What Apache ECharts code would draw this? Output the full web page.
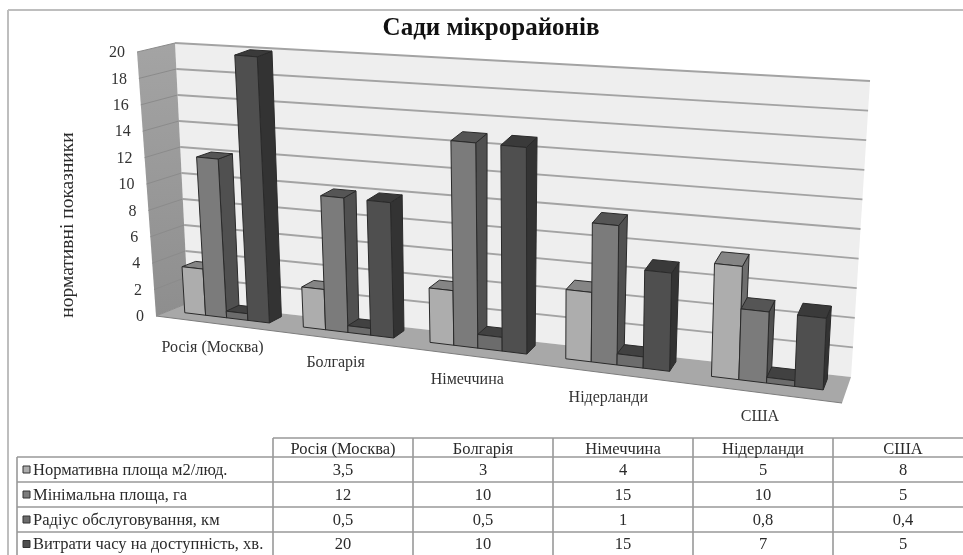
<!DOCTYPE html>
<html>
<head>
<meta charset="utf-8">
<style>
html, body { margin: 0; padding: 0; background: #fff; }
#chart { width: 963px; height: 555px; }
</style>
<script src="https://cdn.jsdelivr.net/npm/echarts@6/dist/echarts.min.js"></script>
</head>
<body>
<div id="chart"></div>
<script>
const categories = ['Росія (Москва)', 'Болгарія', 'Німеччина', 'Нідерланди', 'США']
const normArea = [3.5, 3, 4, 5, 8]
const minArea = [12, 10, 15, 10, 5]
const serviceRadius = [0.5, 0.5, 1, 0.8, 0.4]
const accessTime = [20, 10, 15, 7, 5]
const seriesNames = [
  'Нормативна площа м2/люд.',
  'Мінімальна площа, га',
  'Радіус обслуговування, км',
  'Витрати часу на доступність, хв.',
]
const seriesValues = [normArea, minArea, serviceRadius, accessTime]
const yTicks = [0, 2, 4, 6, 8, 10, 12, 14, 16, 18, 20]
const barColors = [
  { front: '#adadad', top: '#858585', side: '#6e6e6e' },
  { front: '#7b7b7b', top: '#555555', side: '#505050' },
  { front: '#6c6c6c', top: '#414141', side: '#3c3c3c' },
  { front: '#4f4f4f', top: '#3a3a3a', side: '#333333' },
]

// room corners on screen (front plane d=0, back plane d=1)
const FRONT = { lb: [156, 316], lt: [137, 52], rb: [842, 403], rt: [852, 122] }
const BACK = { lb: [188, 303], lt: [175, 43], rb: [851, 377], rt: [870, 81] }
const PERSP = 1.19
const BAR_D0 = 0.4
const BAR_D1 = 0.82
const GROUP_W = 0.72
const SERIF = '"Liberation Serif", serif'

function mix(a, b, k) {
  return [a[0] + (b[0] - a[0]) * k, a[1] + (b[1] - a[1]) * k]
}

// t: 0..1 along categories, h: 0..1 along values, d: 0..1 into the depth
function project(t, h, d) {
  const w = t / (t + PERSP * (1 - t))
  const f = mix(mix(FRONT.lb, FRONT.rb, w), mix(FRONT.lt, FRONT.rt, w), h)
  const b = mix(mix(BACK.lb, BACK.rb, w), mix(BACK.lt, BACK.rt, w), h)
  return mix(f, b, d)
}

// axis coords -> 0..1 inside the grid
function toUnit(params, px, py) {
  const cs = params.coordSys
  return [(px - cs.x) / cs.width, (cs.y + cs.height - py) / cs.height]
}

function poly(points, fill, stroke, lineWidth) {
  return {
    type: 'polygon',
    shape: { points: points },
    style: { fill: fill, stroke: stroke || 'none', lineWidth: lineWidth || 0 },
  }
}

function seg(a, b, color, width) {
  return {
    type: 'line',
    shape: { x1: a[0], y1: a[1], x2: b[0], y2: b[1] },
    style: { stroke: color, lineWidth: width },
  }
}

function renderRoom() {
  return {
    type: 'group',
    children: [
      poly([project(0, 0, 1), project(1, 0, 1), project(1, 1, 1), project(0, 1, 1)], '#eeeeee'),
      poly([project(0, 0, 0), project(0, 0, 1), project(0, 1, 1), project(0, 1, 0)], {
        type: 'linear', x: 0, y: 0, x2: 0, y2: 1,
        colorStops: [{ offset: 0, color: '#a4a4a4' }, { offset: 1, color: '#8e8e8e' }],
      }),
      poly([project(0, 0, 0), project(1, 0, 0), project(1, 0, 1), project(0, 0, 1)], '#a8a8a8'),
      seg(project(0, 0, 0), project(1, 0, 0), '#7d7d7d', 1),
    ],
  }
}

function renderGridLine(params, api) {
  const p = api.coord([0, api.value(0)])
  const h = toUnit(params, p[0], p[1])[1]
  const children = [seg(project(0, h, 0), project(0, h, 1), '#8b8b8b', 1)]
  if (h > 0) children.push(seg(project(0, h, 1), project(1, h, 1), '#a3a3a3', 1.8))
  return { type: 'group', children: children }
}

function renderTickLabel(params, api) {
  const v = api.value(0)
  const p = api.coord([0, v])
  const at = project(0, toUnit(params, p[0], p[1])[1], 0)
  return {
    type: 'text',
    style: {
      text: String(v), x: at[0] - 12, y: at[1] + 1, align: 'right', verticalAlign: 'middle',
      font: '16px ' + SERIF, fill: '#333333',
    },
  }
}

function renderCategoryLabel(params, api) {
  const idx = api.value(0)
  const p = api.coord([idx, 0])
  const at = project(toUnit(params, p[0], p[1])[0], 0, 0)
  return {
    type: 'text',
    style: {
      text: categories[idx], x: at[0] - 2, y: at[1] + 24, align: 'center', verticalAlign: 'middle',
      font: '16px ' + SERIF, fill: '#333333',
    },
  }
}

function renderBar(seriesIdx) {
  const c = barColors[seriesIdx]
  return function (params, api) {
    const idx = api.value(0)
    const band = api.size([1, 0])[0]
    const barW = band * GROUP_W / seriesValues.length
    const base = api.coord([idx, 0])
    const topPt = api.coord([idx, api.value(1)])
    const x0 = base[0] - band * GROUP_W / 2 + barW * seriesIdx
    const t0 = toUnit(params, x0, base[1])[0]
    const t1 = toUnit(params, x0 + barW, base[1])[0]
    const h = toUnit(params, topPt[0], topPt[1])[1]
    const lineCol = '#2a2a2a'
    return {
      type: 'group',
      children: [
        poly([project(t1, 0, BAR_D0), project(t1, 0, BAR_D1), project(t1, h, BAR_D1), project(t1, h, BAR_D0)], c.side, lineCol, 1),
        poly([project(t0, h, BAR_D0), project(t1, h, BAR_D0), project(t1, h, BAR_D1), project(t0, h, BAR_D1)], c.top, lineCol, 1),
        poly([project(t0, 0, BAR_D0), project(t1, 0, BAR_D0), project(t1, h, BAR_D0), project(t0, h, BAR_D0)], c.front, lineCol, 1),
      ],
    }
  }
}

function tableGraphics() {
  // last column runs past the picture edge
  const colX = [273, 413, 553, 693, 833, 973]
  const rowY = [438, 457, 482, 507, 532, 556]
  const left = 17
  const lineCol = '#999999'
  const font = '16.5px ' + SERIF
  const out = []
  const line = (x1, y1, x2, y2) => out.push({
    type: 'line', shape: { x1, y1, x2, y2 }, style: { stroke: lineCol, lineWidth: 1.6 },
  })
  const text = (s, x, y, align) => out.push({
    type: 'text',
    style: { text: s, x, y, align, verticalAlign: 'middle', font, fill: '#2a2a2a' },
  })
  rowY.forEach((y, i) => line(i === 0 ? colX[0] : left, y, 973, y))
  line(left, rowY[1], left, rowY[5])
  colX.forEach(x => line(x, rowY[0], x, rowY[5]))
  categories.forEach((name, c) => text(name, (colX[c] + colX[c + 1]) / 2, (rowY[0] + rowY[1]) / 2 + 2, 'center'))
  seriesNames.forEach((name, s) => {
    const y = (rowY[s + 1] + rowY[s + 2]) / 2
    out.push({
      type: 'rect',
      shape: { x: 23, y: y - 3.5, width: 7, height: 7 },
      style: { fill: barColors[s].front, stroke: '#333333', lineWidth: 1 },
    })
    text(name, 33, y + 1, 'left')
    seriesValues[s].forEach((v, c) => {
      text(String(v).replace('.', ','), (colX[c] + colX[c + 1]) / 2, y + 1, 'center')
    })
  })
  return out
}

const chart = echarts.init(document.getElementById('chart'), null, { renderer: 'canvas' })

chart.setOption({
  animation: false,
  backgroundColor: '#ffffff',
  title: {
    text: 'Сади мікрорайонів',
    left: 486,
    top: 11,
    textAlign: 'center',
    textStyle: { fontFamily: SERIF, fontWeight: 'bold', fontSize: 25, color: '#111111' },
  },
  grid: { left: 0, right: 0, top: 0, bottom: 0 },
  xAxis: { type: 'category', data: categories, show: false },
  yAxis: {
    type: 'value',
    min: 0,
    max: 20,
    interval: 2,
    show: false,
  },
  graphic: [
    { type: 'line', shape: { x1: 8, y1: 10, x2: 963, y2: 10 }, style: { stroke: '#bebebe', lineWidth: 2 } },
    { type: 'line', shape: { x1: 8, y1: 10, x2: 8, y2: 555 }, style: { stroke: '#bebebe', lineWidth: 2 } },
    {
      type: 'text',
      rotation: Math.PI / 2,
      x: 68,
      y: 225,
      style: {
        text: 'нормативні показники', align: 'center', verticalAlign: 'middle',
        font: '19.5px ' + SERIF, fill: '#2a2a2a',
      },
    },
    ...tableGraphics(),
  ],
  series: [
    { type: 'custom', name: 'room', silent: true, data: [0], renderItem: renderRoom },
    { type: 'custom', name: 'grid', silent: true, data: yTicks.map(v => [v]), renderItem: renderGridLine },
    { type: 'custom', name: 'ticks', silent: true, data: yTicks.map(v => [v]), renderItem: renderTickLabel },
    { type: 'custom', name: 'cats', silent: true, data: categories.map((c, i) => [i]), renderItem: renderCategoryLabel },
    ...seriesNames.map((name, s) => ({
      type: 'custom',
      name: name,
      silent: true,
      data: seriesValues[s].map((v, i) => [i, v]),
      encode: { x: 0, y: 1 },
      renderItem: renderBar(s),
    })),
  ],
})
</script>
</body>
</html>
